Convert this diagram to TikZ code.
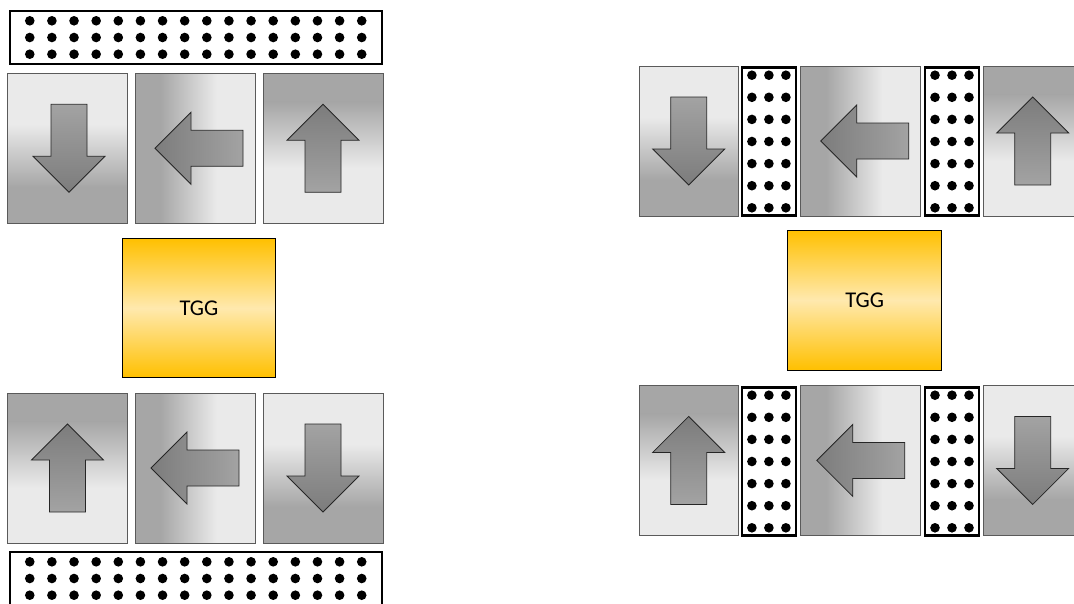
\documentclass[tikz,border=0pt]{standalone}
\usepackage{fontspec}
\setmainfont{Carlito}

\definecolor{boxdk}{HTML}{A6A6A6}
\definecolor{boxlt}{HTML}{EAEAEA}
\definecolor{boxedge}{HTML}{5A5A5A}
\definecolor{arrdk}{HTML}{7C7C7C}
\definecolor{arrlt}{HTML}{A3A3A3}
\definecolor{gold}{HTML}{FFC000}
\definecolor{goldlt}{HTML}{FFE9AE}

\tikzset{
  tile/.style={draw=boxedge, line width=0.9pt, inner sep=0pt, outer sep=0pt,
               minimum width=120pt, minimum height=150pt},
  narrowtile/.style={tile, minimum width=99pt},
  % corner points of a tile and two points at fractions #1, #2 of its diagonal
  tilecorners/.style 2 args={},
  % light at the top, dark at the bottom
  downtile/.style={path picture={
    \path (path picture bounding box.north west) coordinate (nw)
          (path picture bounding box.south east) coordinate (se);
    \path (nw) -- (se) coordinate[pos=0.34] (ga) coordinate[pos=0.35] (gb)
                       coordinate[pos=0.76] (gc);
    \fill[boxdk] (nw) rectangle (se);
    \fill[boxlt] (nw) rectangle (gb -| se);
    \shade[top color=boxlt, bottom color=boxdk] (ga -| nw) rectangle (gc -| se);}},
  % dark at the top, light at the bottom
  uptile/.style={path picture={
    \path (path picture bounding box.north west) coordinate (nw)
          (path picture bounding box.south east) coordinate (se);
    \path (nw) -- (se) coordinate[pos=0.19] (ga) coordinate[pos=0.20] (gb)
                       coordinate[pos=0.63] (gc);
    \fill[boxlt] (nw) rectangle (se);
    \fill[boxdk] (nw) rectangle (gb -| se);
    \shade[top color=boxdk, bottom color=boxlt] (ga -| nw) rectangle (gc -| se);}},
  % dark at the left, light at the right
  lefttile/.style={path picture={
    \path (path picture bounding box.north west) coordinate (nw)
          (path picture bounding box.south east) coordinate (se);
    \path (nw) -- (se) coordinate[pos=0.21] (ga) coordinate[pos=0.22] (gb)
                       coordinate[pos=0.68] (gc);
    \fill[boxlt] (nw) rectangle (se);
    \fill[boxdk] (nw) rectangle (gb |- se);
    \shade[left color=boxdk, right color=boxlt] (ga |- nw) rectangle (gc |- se);}},
  dotbar/.style={draw=black, line width=2.3pt, fill=white, inner sep=0pt, outer sep=0pt,
                 minimum width=372pt, minimum height=53pt},
  dotcol/.style={draw=black, line width=2.3pt, fill=white, inner sep=0pt, outer sep=0pt,
                 minimum width=54pt, minimum height=148pt},
  tgg/.style={draw=black, line width=0.8pt, inner sep=0pt, outer sep=0pt,
              top color=gold, bottom color=gold, middle color=goldlt,
              minimum width=153pt, minimum height=139pt,
              font=\fontsize{22.5}{27}\selectfont},
  arrowline/.style={draw=black!85, line width=0.8pt, line join=miter},
  dot/.style={fill=black},
  pics/uparr/.style={code={
    \draw[arrowline, top color=arrdk, bottom color=arrlt]
      (0,-44) -- (36,-8) -- (18,-8) -- (18,44) -- (-18,44) -- (-18,-8) -- (-36,-8) -- cycle;}},
  pics/downarr/.style={code={
    \draw[arrowline, top color=arrlt, bottom color=arrdk]
      (0,44) -- (36,8) -- (18,8) -- (18,-44) -- (-18,-44) -- (-18,8) -- (-36,8) -- cycle;}},
  pics/leftarr/.style={code={
    \draw[arrowline, left color=arrdk, right color=arrlt]
      (-44,0) -- (-8,-36) -- (-8,-18) -- (44,-18) -- (44,18) -- (-8,18) -- (-8,36) -- cycle;}},
}

% 3 x 16 dots inside a horizontal bar node
\newcommand{\bardots}[1]{%
  \foreach \i in {0,...,15}{\foreach \j in {-1,0,1}{%
    \fill[dot] ([shift={({(\i-7.5)*22.13},{\j*16.7})}]#1.center) circle (4.8pt);}}}
% 3 x 7 dots inside a vertical column node
\newcommand{\coldots}[1]{%
  \foreach \i in {-1,0,1}{\foreach \j in {-3,...,3}{%
    \fill[dot] ([shift={({\i*17},{\j*22.1})}]#1.center) circle (4.8pt);}}}

\begin{document}
\begin{tikzpicture}[x=1pt, y=-1pt]
  \useasboundingbox (0,0) rectangle (1074,603);
  \clip (0,0) rectangle (1074,603);

  % ---------- left assembly ----------
  \node[dotbar] (topbar) at (195.75,37.5) {};
  \bardots{topbar}

  \node[tile, downtile] (tl1) at (67.5,148.3) {};
  \node[tile, lefttile] (tl2) at (195,148.3) {};
  \node[tile, uptile]   (tl3) at (323,148.3) {};
  \pic at ([xshift=1.5pt]tl1.center) {downarr};
  \pic at ([xshift=4pt]tl2.center) {leftarr};
  \pic at (tl3.center) {uparr};

  \node[tgg] (tggL) at (199,308) {TGG};

  \node[tile, uptile]   (bl1) at (67.5,468) {};
  \node[tile, lefttile] (bl2) at (195,468) {};
  \node[tile, downtile] (bl3) at (323,468) {};
  \pic at (bl1.center) {uparr};
  \pic at (bl2.center) {leftarr};
  \pic at (bl3.center) {downarr};

  \node[dotbar] (botbar) at (195.75,578.5) {};
  \bardots{botbar}

  % ---------- right assembly ----------
  \node[narrowtile, downtile] (tr1) at (688.7,141) {};
  \node[dotcol] (trc1) at (768.9,141.5) {};
  \coldots{trc1}
  \node[tile, lefttile] (tr2) at (860.8,141) {};
  \node[dotcol] (trc2) at (952,141.5) {};
  \coldots{trc2}
  \node[narrowtile, uptile] (tr3) at (1032.7,141) {};
  \pic at (tr1.center) {downarr};
  \pic at ([xshift=4pt]tr2.center) {leftarr};
  \pic at (tr3.center) {uparr};

  \node[tgg, minimum width=154pt, minimum height=140pt] (tggR) at (864.7,300) {TGG};

  \node[narrowtile, uptile] (br1) at (688.7,460.4) {};
  \node[dotcol] (brc1) at (768.9,461.5) {};
  \coldots{brc1}
  \node[tile, lefttile] (br2) at (860.8,460.4) {};
  \node[dotcol] (brc2) at (952,461.5) {};
  \coldots{brc2}
  \node[narrowtile, downtile] (br3) at (1032.7,460.4) {};
  \pic at (br1.center) {uparr};
  \pic at (br2.center) {leftarr};
  \pic at (br3.center) {downarr};
\end{tikzpicture}
\end{document}
